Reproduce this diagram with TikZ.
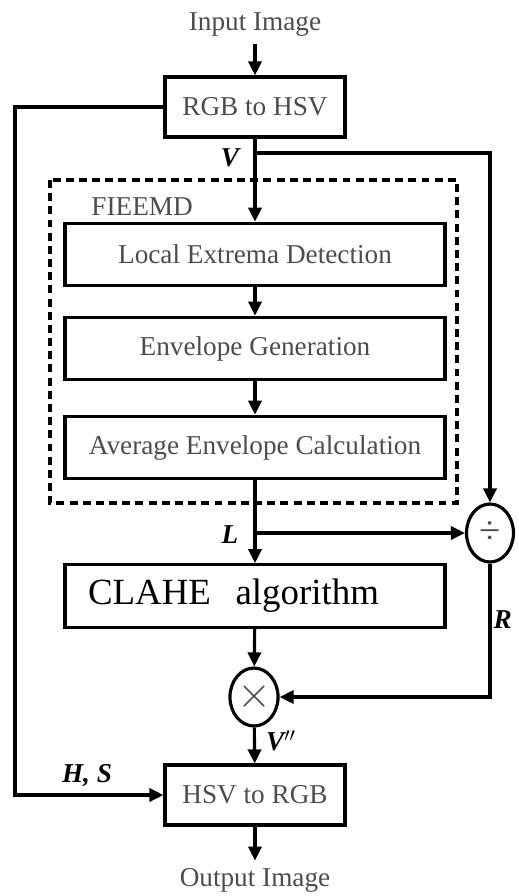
\documentclass[tikz,border=0pt]{standalone}
\usepackage{fontspec}
\setmainfont{Liberation Serif}
\usetikzlibrary{arrows.meta,shapes.geometric}

\begin{document}
\begin{tikzpicture}
  [x=0.02cm,y=-0.02cm,line width=1.8pt,>={Triangle[length=8pt,width=7.5pt]},
   every node/.style={font=\fontsize{15.5}{18}\selectfont,text=black!70},
   blk/.style={draw=black,rectangle,inner sep=0pt,minimum height=1.2cm},
   stage/.style={blk,minimum width=7.6cm,minimum height=1.25cm},
   conv/.style={blk,minimum width=3.6cm},
   op/.style={draw=black,ellipse,inner sep=0pt,minimum width=0.94cm,minimum height=1.16cm},
   sig/.style={text=black,font=\fontsize{15.5}{18}\selectfont\bfseries\itshape}]
  \useasboundingbox (0,0) rectangle (518,896);

  \node (in)  at (255,25)  {Input Image};
  \node[conv] (rgb) at (255,107) {RGB to HSV};

  % FIEEMD block
  \draw[dashed,dash pattern=on 4.5pt off 3pt] (50,180) rectangle (457,503);
  \node[anchor=west] (fie) at (84,207) {FIEEMD};
  \node[stage] (led) at (255,254.5) {Local Extrema Detection};
  \node[stage] (eg)  at (255,348.5) {Envelope Generation};
  \node[stage] (aec) at (255,447.5) {Average Envelope Calculation};

  \node[stage,text=black,text width=6.68cm,align=left,inner xsep=0.46cm,
        font=\fontsize{21}{24}\selectfont] (clahe) at (255,596) {CLAHE\ \ algorithm};
  \node[op] (div) at (490,533) {\fontsize{22}{22}\selectfont ÷};
  \node[op] (mul) at (254,697) {\fontsize{30}{30}\selectfont$\times$};
  \node[conv] (hsv) at (255,795) {HSV to RGB};
  \node (out) at (255,880) {Output Image};

  \coordinate (vsplit) at (255,153);
  \coordinate (lsplit) at (255,533);
  \coordinate (hsturn) at (15,107);

  \node[sig] (vlab)  at (230,158) {V};
  \node[sig] (llab)  at (230,535) {L};
  \node[sig,inner sep=1pt,anchor=east] (rlab) at (515,620) {R};
  \node[sig] (vvlab) at (281,741) {V$^{\prime\prime}$};
  \node[sig] (hslab) at (87,776) {H, S};

  \draw[->] (in) -- (rgb);
  \draw[->] (rgb) -- (led);
  \draw[->] (vsplit) -| (div);
  \draw[->] (rgb.west) -- (hsturn) |- (hsv.west);
  \draw[->] (led) -- (eg);
  \draw[->] (eg) -- (aec);
  \draw[->] (aec) -- (clahe);
  \draw[->] (lsplit) -- (div);
  \draw[->] (clahe) -- (mul);
  \draw[->] (div) |- (mul);
  \draw[->] (mul) -- (hsv);
  \draw[->] (hsv) -- (out);

\end{tikzpicture}
\end{document}
